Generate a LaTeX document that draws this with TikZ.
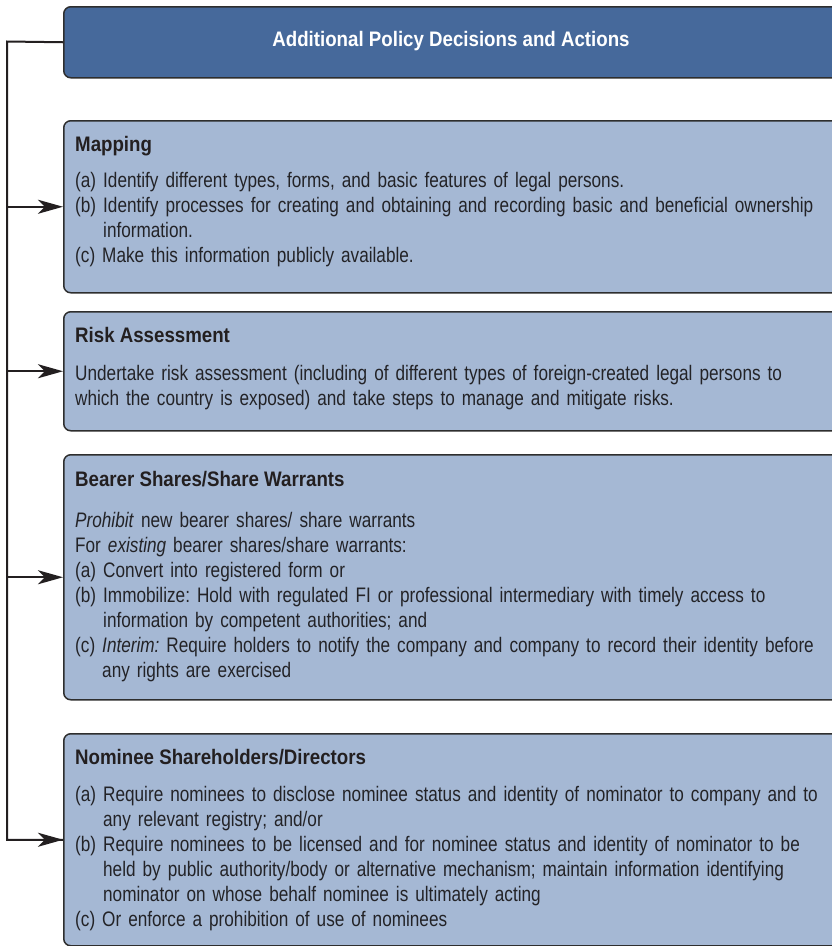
\documentclass[tikz,border=0pt]{standalone}
\usepackage{fontspec}
\setmainfont[FakeStretch=0.818, WordSpace=0.85]{Liberation Sans}
\newfontfamily\headfont[FakeStretch=0.89]{Liberation Sans}
\usetikzlibrary{arrows.meta}
\definecolor{titleblue}{HTML}{46699B}
\definecolor{boxblue}{HTML}{A5B8D4}
\definecolor{edgegray}{HTML}{2E2E2E}
\definecolor{ink}{HTML}{231F20}
\definecolor{bodyink}{HTML}{232327}
\frenchspacing
\begin{document}
\begin{tikzpicture}[x=1pt,y=-1pt,
  panel/.style={draw=edgegray, line width=1.5pt, fill=boxblue, rounded corners=7pt,
    rectangle, inner sep=0pt, minimum width=830pt, anchor=north west},
  titlepanel/.style={panel, fill=titleblue},
  headtext/.style={anchor=base west, inner sep=0pt, text=ink,
    font=\fontsize{21}{25}\selectfont\headfont\bfseries},
  bodytext/.style={anchor=base west, inner sep=0pt, text=bodyink, text width=780pt, align=left,
    font=\fontsize{21}{25.1}\selectfont\frenchspacing},
  link/.style={draw=ink, line width=2pt},
  arrowlink/.style={link, -{Stealth[length=25pt, width=14pt, inset=7pt]}}
]
\clip (0,0) rectangle (832,946);
\fill[white] (0,0) rectangle (832,946);

% boxes
\node[titlepanel, minimum height=71pt] (title) at (63,6) {};
\node[panel, minimum height=172pt] (mapping) at (63,120) {};
\node[panel, minimum height=119pt] (risk) at (63,311) {};
\node[panel, minimum height=245pt] (bearer) at (63,454) {};
\node[panel, minimum height=212pt] (nominee) at (63,733) {};

% title
\node[inner sep=0pt, text=white, font=\fontsize{21}{25}\selectfont\headfont\bfseries] (titletext) at (451,41) {Additional Policy Decisions and Actions};

% Mapping
\node[headtext] (maphead) at (75,151) {Mapping};
\node[bodytext] (mapbody) at (75,187) {(a) Identify different types, forms, and basic features of legal persons.\\
(b) Identify processes for creating and obtaining and recording basic and beneficial ownership\\
\hphantom{(b)~}information.\\
(c) Make this information publicly available.};

% Risk
\node[headtext] (riskhead) at (75,342) {Risk Assessment};
\node[bodytext] (riskbody) at (75,380) {Undertake risk assessment (including of different types of foreign-created legal persons to\\
which the country is exposed) and take steps to manage and mitigate risks.};

% Bearer
\node[headtext] (bearerhead) at (75,486) {Bearer Shares/Share Warrants};
\node[bodytext] (bearerbody) at (75,527) {\textit{Prohibit} new bearer shares/ share warrants\\
For \textit{existing} bearer shares/share warrants:\\
(a) Convert into registered form or\\
(b) Immobilize: Hold with regulated FI or professional intermediary with timely access to\\
\hphantom{(b)~}information by competent authorities; and\\
(c) \textit{Interim:} Require holders to notify the company and company to record their identity before\\
\hphantom{(c)~}any rights are exercised};

% Nominee
\node[headtext] (nomhead) at (75,764) {Nominee Shareholders/Directors};
\node[bodytext] (nombody) at (75,801) {(a) Require nominees to disclose nominee status and identity of nominator to company and to\\
\hphantom{(a)~}any relevant registry; and/or\\
(b) Require nominees to be licensed and for nominee status and identity of nominator to be\\
\hphantom{(b)~}held by public authority/body or alternative mechanism; maintain information identifying\\
\hphantom{(b)~}nominator on whose behalf nominee is ultimately acting\\
(c) Or enforce a prohibition of use of nominees};

% connectors
\coordinate (trunk) at (7,41.5);
\draw[link] (title.west) -- (trunk) |- (nominee.west);
\draw[arrowlink] (trunk |- mapping.west) -- (mapping.west);
\draw[arrowlink] (trunk |- risk.west) -- (risk.west);
\draw[arrowlink] (trunk |- bearer.west) -- (bearer.west);
\draw[arrowlink] (trunk |- nominee.west) -- (nominee.west);
\end{tikzpicture}
\end{document}
